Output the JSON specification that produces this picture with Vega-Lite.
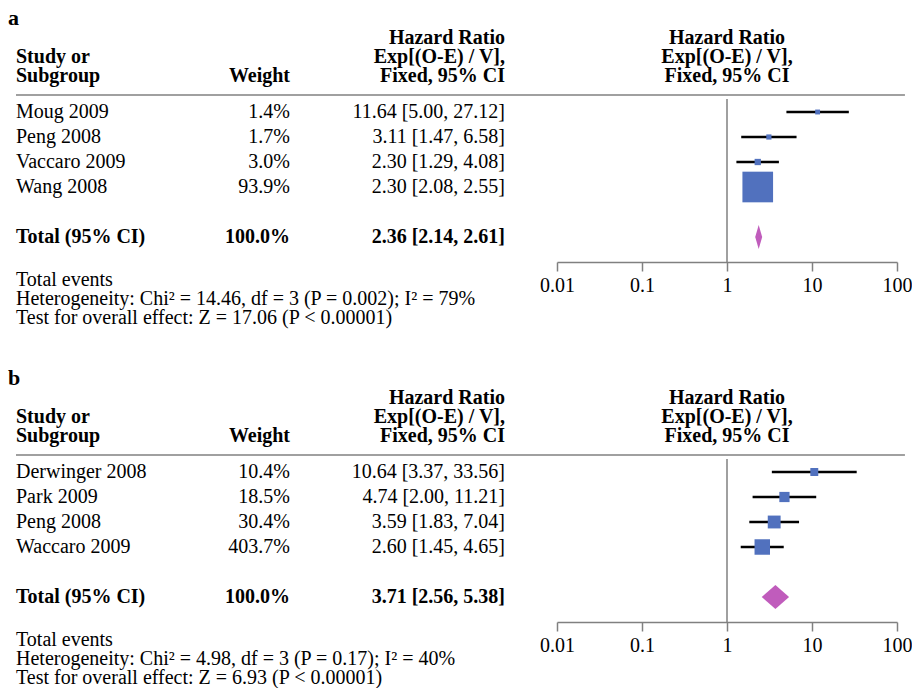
{
  "$schema": "https://vega.github.io/schema/vega-lite/v6.json",
  "background": "white",
  "padding": {"left": 8, "top": 0, "right": 0, "bottom": 0},
  "config": {
    "view": {"stroke": null},
    "text": {"font": "Liberation Serif", "fontSize": 20, "color": "black"},
    "axisX": {"labelFont": "Liberation Serif", "labelFontSize": 20, "labelColor": "black", "labelPadding": 4, "labelFlush": false, "labelOverlap": false, "grid": false, "domainColor": "#808080", "domainWidth": 1.5, "tickColor": "#808080", "tickWidth": 1.5, "tickSize": 9, "title": null}
  },
  "resolve": {"scale": {"size": "independent"}, "legend": {"size": "independent"}},
  "datasets": {
    "studiesA": [
      {"study": "Moug 2009", "weight": "1.4%", "w": 1.4, "hr": "11.64 [5.00, 27.12]", "est": 11.64, "lo": 5.00, "hi": 27.12, "i": 1},
      {"study": "Peng 2008", "weight": "1.7%", "w": 1.7, "hr": "3.11 [1.47, 6.58]", "est": 3.11, "lo": 1.47, "hi": 6.58, "i": 2},
      {"study": "Vaccaro 2009", "weight": "3.0%", "w": 3.0, "hr": "2.30 [1.29, 4.08]", "est": 2.30, "lo": 1.29, "hi": 4.08, "i": 3},
      {"study": "Wang 2008", "weight": "93.9%", "w": 93.9, "hr": "2.30 [2.08, 2.55]", "est": 2.30, "lo": 2.08, "hi": 2.55, "i": 4}
    ],
    "totalA": [
      {"study": "Total (95% CI)", "weight": "100.0%", "hr": "2.36 [2.14, 2.61]", "est": 2.36, "lo": 2.14, "hi": 2.61, "i": 6}
    ],
    "studiesB": [
      {"study": "Derwinger 2008", "weight": "10.4%", "w": 10.4, "hr": "10.64 [3.37, 33.56]", "est": 10.64, "lo": 3.37, "hi": 33.56, "i": 1},
      {"study": "Park 2009", "weight": "18.5%", "w": 18.5, "hr": "4.74 [2.00, 11.21]", "est": 4.74, "lo": 2.00, "hi": 11.21, "i": 2},
      {"study": "Peng 2008", "weight": "30.4%", "w": 30.4, "hr": "3.59 [1.83, 7.04]", "est": 3.59, "lo": 1.83, "hi": 7.04, "i": 3},
      {"study": "Waccaro 2009", "weight": "403.7%", "w": 403.7, "hr": "2.60 [1.45, 4.65]", "est": 2.60, "lo": 1.45, "hi": 4.65, "i": 4}
    ],
    "totalB": [
      {"study": "Total (95% CI)", "weight": "100.0%", "hr": "3.71 [2.56, 5.38]", "est": 3.71, "lo": 2.56, "hi": 5.38, "i": 6}
    ]
  },
  "spacing": 32,
  "vconcat": [
    {
      "bounds": "flush",
      "spacing": 0,
      "hconcat": [
        {
          "width": 184, "height": 262,
          "layer": [
            {"data": {"values": [{}]}, "mark": {"type": "text", "text": "a", "fontSize": 22, "fontWeight": "bold", "align": "left", "baseline": "middle", "dx": -8},
             "encoding": {"x": {"datum": 0, "type": "quantitative", "scale": {"domain": [0, 1]}, "axis": null}, "y": {"datum": -2.76, "type": "quantitative", "scale": {"domain": [-3.48, 7], "reverse": true, "zero": false, "nice": false}, "axis": null}}},
            {"data": {"values": [{}]}, "mark": {"type": "text", "text": ["Study or", "Subgroup"], "fontWeight": "bold", "align": "left", "baseline": "alphabetic", "lineHeight": 19},
             "encoding": {"x": {"datum": 0, "type": "quantitative", "scale": {"domain": [0, 1]}, "axis": null}, "y": {"datum": -0.976, "type": "quantitative", "scale": {"domain": [-3.48, 7], "reverse": true, "zero": false, "nice": false}, "axis": null}}},
            {"data": {"values": [{}]}, "mark": {"type": "rule", "color": "#808080", "strokeWidth": 1.5},
             "encoding": {"y": {"datum": 0.32, "type": "quantitative", "scale": {"domain": [-3.48, 7], "reverse": true, "zero": false, "nice": false}, "axis": null}}},
            {"data": {"name": "studiesA"}, "mark": {"type": "text", "align": "left", "baseline": "middle"},
             "encoding": {"x": {"datum": 0, "type": "quantitative", "scale": {"domain": [0, 1]}, "axis": null}, "y": {"field": "i", "type": "quantitative", "scale": {"domain": [-3.48, 7], "reverse": true, "zero": false, "nice": false}, "axis": null}, "text": {"field": "study"}}},
            {"data": {"name": "totalA"}, "mark": {"type": "text", "align": "left", "baseline": "middle", "fontWeight": "bold"},
             "encoding": {"x": {"datum": 0, "type": "quantitative", "scale": {"domain": [0, 1]}, "axis": null}, "y": {"field": "i", "type": "quantitative", "scale": {"domain": [-3.48, 7], "reverse": true, "zero": false, "nice": false}, "axis": null}, "text": {"field": "study"}}},
            {"data": {"values": [{}]}, "mark": {"type": "text", "text": ["Total events", "Heterogeneity: Chi² = 14.46, df = 3 (P = 0.002); I² = 79%", "Test for overall effect: Z = 17.06 (P < 0.00001)"], "align": "left", "baseline": "alphabetic", "lineHeight": 19},
             "encoding": {"x": {"datum": 0, "type": "quantitative", "scale": {"domain": [0, 1]}, "axis": null}, "y": {"datum": 7.96, "type": "quantitative", "scale": {"domain": [-3.48, 7], "reverse": true, "zero": false, "nice": false}, "axis": null}}}
          ]
        },
        {
          "width": 90, "height": 262,
          "layer": [
            {"data": {"values": [{}]}, "mark": {"type": "text", "text": "Weight", "fontWeight": "bold", "align": "right", "baseline": "alphabetic"},
             "encoding": {"x": {"datum": 1, "type": "quantitative", "scale": {"domain": [0, 1]}, "axis": null}, "y": {"datum": -0.216, "type": "quantitative", "scale": {"domain": [-3.48, 7], "reverse": true, "zero": false, "nice": false}, "axis": null}}},
            {"data": {"values": [{}]}, "mark": {"type": "rule", "color": "#808080", "strokeWidth": 1.5},
             "encoding": {"y": {"datum": 0.32, "type": "quantitative", "scale": {"domain": [-3.48, 7], "reverse": true, "zero": false, "nice": false}, "axis": null}}},
            {"data": {"name": "studiesA"}, "mark": {"type": "text", "align": "right", "baseline": "middle"},
             "encoding": {"x": {"datum": 1, "type": "quantitative", "scale": {"domain": [0, 1]}, "axis": null}, "y": {"field": "i", "type": "quantitative", "scale": {"domain": [-3.48, 7], "reverse": true, "zero": false, "nice": false}, "axis": null}, "text": {"field": "weight"}}},
            {"data": {"name": "totalA"}, "mark": {"type": "text", "align": "right", "baseline": "middle", "fontWeight": "bold"},
             "encoding": {"x": {"datum": 1, "type": "quantitative", "scale": {"domain": [0, 1]}, "axis": null}, "y": {"field": "i", "type": "quantitative", "scale": {"domain": [-3.48, 7], "reverse": true, "zero": false, "nice": false}, "axis": null}, "text": {"field": "weight"}}}
          ]
        },
        {
          "width": 215, "height": 262,
          "layer": [
            {"data": {"values": [{}]}, "mark": {"type": "text", "text": ["Hazard Ratio", "Exp[(O-E) / V],", "Fixed, 95% CI"], "fontWeight": "bold", "align": "right", "baseline": "alphabetic", "lineHeight": 19},
             "encoding": {"x": {"datum": 1, "type": "quantitative", "scale": {"domain": [0, 1]}, "axis": null}, "y": {"datum": -1.736, "type": "quantitative", "scale": {"domain": [-3.48, 7], "reverse": true, "zero": false, "nice": false}, "axis": null}}},
            {"data": {"values": [{}]}, "mark": {"type": "rule", "color": "#808080", "strokeWidth": 1.5},
             "encoding": {"y": {"datum": 0.32, "type": "quantitative", "scale": {"domain": [-3.48, 7], "reverse": true, "zero": false, "nice": false}, "axis": null}}},
            {"data": {"name": "studiesA"}, "mark": {"type": "text", "align": "right", "baseline": "middle"},
             "encoding": {"x": {"datum": 1, "type": "quantitative", "scale": {"domain": [0, 1]}, "axis": null}, "y": {"field": "i", "type": "quantitative", "scale": {"domain": [-3.48, 7], "reverse": true, "zero": false, "nice": false}, "axis": null}, "text": {"field": "hr"}}},
            {"data": {"name": "totalA"}, "mark": {"type": "text", "align": "right", "baseline": "middle", "fontWeight": "bold"},
             "encoding": {"x": {"datum": 1, "type": "quantitative", "scale": {"domain": [0, 1]}, "axis": null}, "y": {"field": "i", "type": "quantitative", "scale": {"domain": [-3.48, 7], "reverse": true, "zero": false, "nice": false}, "axis": null}, "text": {"field": "hr"}}}
          ]
        },
        {
          "width": 52, "height": 262,
          "data": {"values": [{}]},
          "mark": {"type": "rule", "color": "#808080", "strokeWidth": 1.5},
          "encoding": {"y": {"datum": 0.32, "type": "quantitative", "scale": {"domain": [-3.48, 7], "reverse": true, "zero": false, "nice": false}, "axis": null}}
        },
        {
          "width": 340, "height": 262,
          "layer": [
            {"data": {"name": "studiesA"}, "mark": {"type": "rule", "color": "black", "strokeWidth": 2.5},
             "encoding": {
               "x": {"field": "lo", "type": "quantitative", "scale": {"type": "log", "domain": [0.01, 100], "nice": false}, "axis": {"values": [0.01, 0.1, 1, 10, 100], "format": "~g", "title": null}},
               "x2": {"field": "hi"},
               "y": {"field": "i", "type": "quantitative", "scale": {"domain": [-3.48, 7], "reverse": true, "zero": false, "nice": false}, "axis": null}}},
            {"data": {"values": [{}]}, "mark": {"type": "text", "text": ["Hazard Ratio", "Exp[(O-E) / V],", "Fixed, 95% CI"], "fontWeight": "bold", "align": "center", "baseline": "alphabetic", "lineHeight": 19},
             "encoding": {"x": {"datum": 1, "type": "quantitative", "scale": {"type": "log", "domain": [0.01, 100], "nice": false}, "axis": {"values": [0.01, 0.1, 1, 10, 100], "format": "~g", "title": null}}, "y": {"datum": -1.736, "type": "quantitative", "scale": {"domain": [-3.48, 7], "reverse": true, "zero": false, "nice": false}, "axis": null}}},
            {"data": {"values": [{}]}, "mark": {"type": "rule", "color": "#808080", "strokeWidth": 1.5},
             "encoding": {"x": {"datum": 0.01, "type": "quantitative", "scale": {"type": "log", "domain": [0.01, 100], "nice": false}, "axis": {"values": [0.01, 0.1, 1, 10, 100], "format": "~g", "title": null}}, "x2": {"datum": 124}, "y": {"datum": 0.32, "type": "quantitative", "scale": {"domain": [-3.48, 7], "reverse": true, "zero": false, "nice": false}, "axis": null}}},
            {"data": {"values": [{}]}, "mark": {"type": "rule", "color": "#808080", "strokeWidth": 1.5},
             "encoding": {"x": {"datum": 1, "type": "quantitative", "scale": {"type": "log", "domain": [0.01, 100], "nice": false}, "axis": {"values": [0.01, 0.1, 1, 10, 100], "format": "~g", "title": null}}, "y": {"datum": 0.48, "type": "quantitative", "scale": {"domain": [-3.48, 7], "reverse": true, "zero": false, "nice": false}, "axis": null}, "y2": {"datum": 7}}},
            {"data": {"name": "studiesA"}, "mark": {"type": "square", "filled": true, "color": "#5171BE", "opacity": 1, "strokeWidth": 0},
             "encoding": {
               "x": {"field": "est", "type": "quantitative", "scale": {"type": "log", "domain": [0.01, 100], "nice": false}, "axis": {"values": [0.01, 0.1, 1, 10, 100], "format": "~g", "title": null}},
               "y": {"field": "i", "type": "quantitative", "scale": {"domain": [-3.48, 7], "reverse": true, "zero": false, "nice": false}, "axis": null},
               "size": {"field": "w", "type": "quantitative", "scale": {"domain": [0, 100], "range": [10, 1000]}, "legend": null}}},
            {"data": {"name": "totalA"}, "mark": {"type": "point", "shape": "M-0.29,0L0,-1L0.29,0L0,1Z", "filled": true, "color": "#C05CBC", "opacity": 1, "strokeWidth": 0, "size": 576},
             "encoding": {
               "x": {"field": "est", "type": "quantitative", "scale": {"type": "log", "domain": [0.01, 100], "nice": false}, "axis": {"values": [0.01, 0.1, 1, 10, 100], "format": "~g", "title": null}},
               "y": {"field": "i", "type": "quantitative", "scale": {"domain": [-3.48, 7], "reverse": true, "zero": false, "nice": false}, "axis": null}}}
          ]
        }
      ]
    },
    {
      "bounds": "flush",
      "spacing": 0,
      "hconcat": [
        {
          "width": 184, "height": 262,
          "layer": [
            {"data": {"values": [{}]}, "mark": {"type": "text", "text": "b", "fontSize": 22, "fontWeight": "bold", "align": "left", "baseline": "middle", "dx": -8},
             "encoding": {"x": {"datum": 0, "type": "quantitative", "scale": {"domain": [0, 1]}, "axis": null}, "y": {"datum": -2.76, "type": "quantitative", "scale": {"domain": [-3.48, 7], "reverse": true, "zero": false, "nice": false}, "axis": null}}},
            {"data": {"values": [{}]}, "mark": {"type": "text", "text": ["Study or", "Subgroup"], "fontWeight": "bold", "align": "left", "baseline": "alphabetic", "lineHeight": 19},
             "encoding": {"x": {"datum": 0, "type": "quantitative", "scale": {"domain": [0, 1]}, "axis": null}, "y": {"datum": -0.976, "type": "quantitative", "scale": {"domain": [-3.48, 7], "reverse": true, "zero": false, "nice": false}, "axis": null}}},
            {"data": {"values": [{}]}, "mark": {"type": "rule", "color": "#808080", "strokeWidth": 1.5},
             "encoding": {"y": {"datum": 0.32, "type": "quantitative", "scale": {"domain": [-3.48, 7], "reverse": true, "zero": false, "nice": false}, "axis": null}}},
            {"data": {"name": "studiesB"}, "mark": {"type": "text", "align": "left", "baseline": "middle"},
             "encoding": {"x": {"datum": 0, "type": "quantitative", "scale": {"domain": [0, 1]}, "axis": null}, "y": {"field": "i", "type": "quantitative", "scale": {"domain": [-3.48, 7], "reverse": true, "zero": false, "nice": false}, "axis": null}, "text": {"field": "study"}}},
            {"data": {"name": "totalB"}, "mark": {"type": "text", "align": "left", "baseline": "middle", "fontWeight": "bold"},
             "encoding": {"x": {"datum": 0, "type": "quantitative", "scale": {"domain": [0, 1]}, "axis": null}, "y": {"field": "i", "type": "quantitative", "scale": {"domain": [-3.48, 7], "reverse": true, "zero": false, "nice": false}, "axis": null}, "text": {"field": "study"}}},
            {"data": {"values": [{}]}, "mark": {"type": "text", "text": ["Total events", "Heterogeneity: Chi² = 4.98, df = 3 (P = 0.17); I² = 40%", "Test for overall effect: Z = 6.93 (P < 0.00001)"], "align": "left", "baseline": "alphabetic", "lineHeight": 19},
             "encoding": {"x": {"datum": 0, "type": "quantitative", "scale": {"domain": [0, 1]}, "axis": null}, "y": {"datum": 7.96, "type": "quantitative", "scale": {"domain": [-3.48, 7], "reverse": true, "zero": false, "nice": false}, "axis": null}}}
          ]
        },
        {
          "width": 90, "height": 262,
          "layer": [
            {"data": {"values": [{}]}, "mark": {"type": "text", "text": "Weight", "fontWeight": "bold", "align": "right", "baseline": "alphabetic"},
             "encoding": {"x": {"datum": 1, "type": "quantitative", "scale": {"domain": [0, 1]}, "axis": null}, "y": {"datum": -0.216, "type": "quantitative", "scale": {"domain": [-3.48, 7], "reverse": true, "zero": false, "nice": false}, "axis": null}}},
            {"data": {"values": [{}]}, "mark": {"type": "rule", "color": "#808080", "strokeWidth": 1.5},
             "encoding": {"y": {"datum": 0.32, "type": "quantitative", "scale": {"domain": [-3.48, 7], "reverse": true, "zero": false, "nice": false}, "axis": null}}},
            {"data": {"name": "studiesB"}, "mark": {"type": "text", "align": "right", "baseline": "middle"},
             "encoding": {"x": {"datum": 1, "type": "quantitative", "scale": {"domain": [0, 1]}, "axis": null}, "y": {"field": "i", "type": "quantitative", "scale": {"domain": [-3.48, 7], "reverse": true, "zero": false, "nice": false}, "axis": null}, "text": {"field": "weight"}}},
            {"data": {"name": "totalB"}, "mark": {"type": "text", "align": "right", "baseline": "middle", "fontWeight": "bold"},
             "encoding": {"x": {"datum": 1, "type": "quantitative", "scale": {"domain": [0, 1]}, "axis": null}, "y": {"field": "i", "type": "quantitative", "scale": {"domain": [-3.48, 7], "reverse": true, "zero": false, "nice": false}, "axis": null}, "text": {"field": "weight"}}}
          ]
        },
        {
          "width": 215, "height": 262,
          "layer": [
            {"data": {"values": [{}]}, "mark": {"type": "text", "text": ["Hazard Ratio", "Exp[(O-E) / V],", "Fixed, 95% CI"], "fontWeight": "bold", "align": "right", "baseline": "alphabetic", "lineHeight": 19},
             "encoding": {"x": {"datum": 1, "type": "quantitative", "scale": {"domain": [0, 1]}, "axis": null}, "y": {"datum": -1.736, "type": "quantitative", "scale": {"domain": [-3.48, 7], "reverse": true, "zero": false, "nice": false}, "axis": null}}},
            {"data": {"values": [{}]}, "mark": {"type": "rule", "color": "#808080", "strokeWidth": 1.5},
             "encoding": {"y": {"datum": 0.32, "type": "quantitative", "scale": {"domain": [-3.48, 7], "reverse": true, "zero": false, "nice": false}, "axis": null}}},
            {"data": {"name": "studiesB"}, "mark": {"type": "text", "align": "right", "baseline": "middle"},
             "encoding": {"x": {"datum": 1, "type": "quantitative", "scale": {"domain": [0, 1]}, "axis": null}, "y": {"field": "i", "type": "quantitative", "scale": {"domain": [-3.48, 7], "reverse": true, "zero": false, "nice": false}, "axis": null}, "text": {"field": "hr"}}},
            {"data": {"name": "totalB"}, "mark": {"type": "text", "align": "right", "baseline": "middle", "fontWeight": "bold"},
             "encoding": {"x": {"datum": 1, "type": "quantitative", "scale": {"domain": [0, 1]}, "axis": null}, "y": {"field": "i", "type": "quantitative", "scale": {"domain": [-3.48, 7], "reverse": true, "zero": false, "nice": false}, "axis": null}, "text": {"field": "hr"}}}
          ]
        },
        {
          "width": 52, "height": 262,
          "data": {"values": [{}]},
          "mark": {"type": "rule", "color": "#808080", "strokeWidth": 1.5},
          "encoding": {"y": {"datum": 0.32, "type": "quantitative", "scale": {"domain": [-3.48, 7], "reverse": true, "zero": false, "nice": false}, "axis": null}}
        },
        {
          "width": 340, "height": 262,
          "layer": [
            {"data": {"name": "studiesB"}, "mark": {"type": "rule", "color": "black", "strokeWidth": 2.5},
             "encoding": {
               "x": {"field": "lo", "type": "quantitative", "scale": {"type": "log", "domain": [0.01, 100], "nice": false}, "axis": {"values": [0.01, 0.1, 1, 10, 100], "format": "~g", "title": null}},
               "x2": {"field": "hi"},
               "y": {"field": "i", "type": "quantitative", "scale": {"domain": [-3.48, 7], "reverse": true, "zero": false, "nice": false}, "axis": null}}},
            {"data": {"values": [{}]}, "mark": {"type": "text", "text": ["Hazard Ratio", "Exp[(O-E) / V],", "Fixed, 95% CI"], "fontWeight": "bold", "align": "center", "baseline": "alphabetic", "lineHeight": 19},
             "encoding": {"x": {"datum": 1, "type": "quantitative", "scale": {"type": "log", "domain": [0.01, 100], "nice": false}, "axis": {"values": [0.01, 0.1, 1, 10, 100], "format": "~g", "title": null}}, "y": {"datum": -1.736, "type": "quantitative", "scale": {"domain": [-3.48, 7], "reverse": true, "zero": false, "nice": false}, "axis": null}}},
            {"data": {"values": [{}]}, "mark": {"type": "rule", "color": "#808080", "strokeWidth": 1.5},
             "encoding": {"x": {"datum": 0.01, "type": "quantitative", "scale": {"type": "log", "domain": [0.01, 100], "nice": false}, "axis": {"values": [0.01, 0.1, 1, 10, 100], "format": "~g", "title": null}}, "x2": {"datum": 124}, "y": {"datum": 0.32, "type": "quantitative", "scale": {"domain": [-3.48, 7], "reverse": true, "zero": false, "nice": false}, "axis": null}}},
            {"data": {"values": [{}]}, "mark": {"type": "rule", "color": "#808080", "strokeWidth": 1.5},
             "encoding": {"x": {"datum": 1, "type": "quantitative", "scale": {"type": "log", "domain": [0.01, 100], "nice": false}, "axis": {"values": [0.01, 0.1, 1, 10, 100], "format": "~g", "title": null}}, "y": {"datum": 0.48, "type": "quantitative", "scale": {"domain": [-3.48, 7], "reverse": true, "zero": false, "nice": false}, "axis": null}, "y2": {"datum": 7}}},
            {"data": {"name": "studiesB"}, "mark": {"type": "square", "filled": true, "color": "#5171BE", "opacity": 1, "strokeWidth": 0},
             "encoding": {
               "x": {"field": "est", "type": "quantitative", "scale": {"type": "log", "domain": [0.01, 100], "nice": false}, "axis": {"values": [0.01, 0.1, 1, 10, 100], "format": "~g", "title": null}},
               "y": {"field": "i", "type": "quantitative", "scale": {"domain": [-3.48, 7], "reverse": true, "zero": false, "nice": false}, "axis": null},
               "size": {"field": "w", "type": "quantitative", "scale": {"domain": [0, 45], "range": [10, 240], "clamp": true}, "legend": null}}},
            {"data": {"name": "totalB"}, "mark": {"type": "point", "shape": "M-1.14,0L0,-1L1.14,0L0,1Z", "filled": true, "color": "#C05CBC", "opacity": 1, "strokeWidth": 0, "size": 576},
             "encoding": {
               "x": {"field": "est", "type": "quantitative", "scale": {"type": "log", "domain": [0.01, 100], "nice": false}, "axis": {"values": [0.01, 0.1, 1, 10, 100], "format": "~g", "title": null}},
               "y": {"field": "i", "type": "quantitative", "scale": {"domain": [-3.48, 7], "reverse": true, "zero": false, "nice": false}, "axis": null}}}
          ]
        }
      ]
    }
  ]
}
